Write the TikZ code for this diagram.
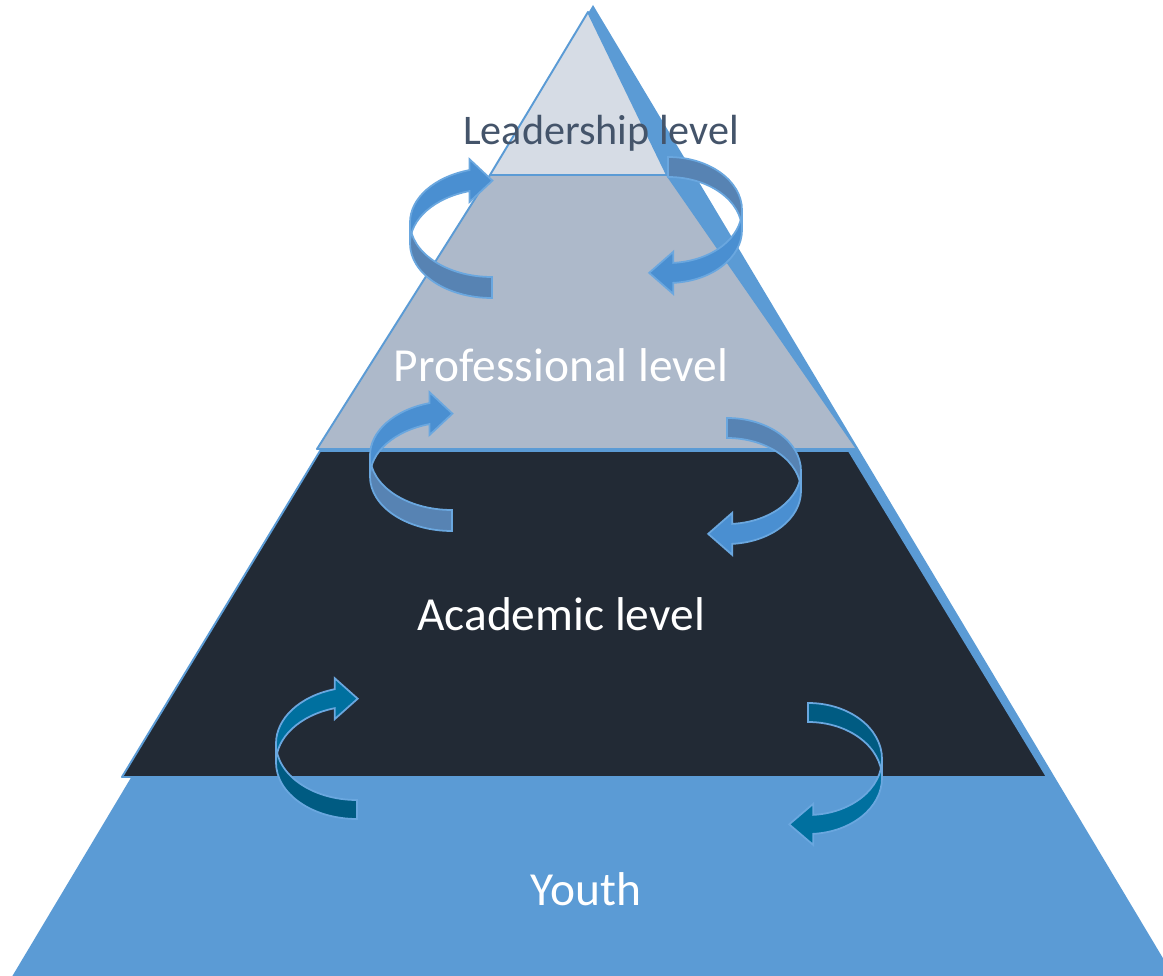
\documentclass[tikz,border=0pt]{standalone}
\usepackage{fontspec}
\setmainfont{Carlito}
\usetikzlibrary{calc}

\definecolor{youthblue}{HTML}{5B9BD5}
\definecolor{acadfill}{HTML}{222A35}
\definecolor{proffill}{HTML}{ADB9CA}
\definecolor{leadfill}{HTML}{D6DCE5}
\definecolor{leadtext}{HTML}{44546A}
\definecolor{ribfront}{HTML}{4A8FD1}
\definecolor{ribback}{HTML}{5783B3}
\definecolor{deepfront}{HTML}{00709F}
\definecolor{deepback}{HTML}{005B82}
\definecolor{ribedge}{HTML}{6AA7DF}

% ribbon loop on the left side: centre, x radius, y radius, band, front, back
\newcommand{\ribbonleft}[6]{
  \coordinate (c) at #1;
  \filldraw[rib, fill=#6] ($(c)+(180:#2 and #3)$) arc[start angle=180, end angle=90, x radius=#2, y radius=#3]
    -- ++(0,#4) arc[start angle=90, end angle=180, x radius=#2, y radius=#3] -- cycle;
  \coordinate (a) at ($(c)+(254:#2 and #3)$);
  \coordinate (b) at ($(a)+(0,#4)$);
  \coordinate (m) at ($(a)!0.5!(b)$);
  \filldraw[rib, fill=#5] ($(m)+(23,0)$) -- ($(a)+(0,-11)$) -- (a)
    arc[start angle=254, end angle=180, x radius=#2, y radius=#3]
    -- ++(0,#4) arc[start angle=180, end angle=254, x radius=#2, y radius=#3]
    -- ($(b)+(0,11)$) -- cycle;
}
% ribbon loop on the right side
\newcommand{\ribbonright}[6]{
  \coordinate (c) at #1;
  \filldraw[rib, fill=#6] ($(c)+(270:#2 and #3)$) arc[start angle=270, end angle=360, x radius=#2, y radius=#3]
    -- ++(0,#4) arc[start angle=0, end angle=-90, x radius=#2, y radius=#3] -- cycle;
  \coordinate (a) at ($(c)+(86:#2 and #3)$);
  \coordinate (b) at ($(a)+(0,#4)$);
  \coordinate (m) at ($(a)!0.5!(b)$);
  \filldraw[rib, fill=#5] ($(m)+(-24,0)$) -- ($(a)+(0,-11)$) -- (a)
    arc[start angle=86, end angle=0, x radius=#2, y radius=#3]
    -- ++(0,#4) arc[start angle=0, end angle=86, x radius=#2, y radius=#3]
    -- ($(b)+(0,11)$) -- cycle;
}

\begin{document}
\begin{tikzpicture}[x=0.02cm, y=-0.02cm,
    layer/.style={draw=youthblue, line width=1.1pt, line join=round},
    rib/.style={draw=ribedge, line width=1pt, line join=miter},
    lvl/.style={anchor=base, text=white, font=\fontsize{27}{32}\selectfont}]
  \useasboundingbox (0,0) rectangle (1163,976);
  \clip (0,0) rectangle (1163,976);

  % pyramid layers
  \fill[youthblue] (593,5) -- (1182,990) -- (4,990) -- cycle;
  \filldraw[layer, fill=acadfill] (320,451) -- (849,451) -- (1047,777) -- (122,777) -- cycle;
  \filldraw[layer, fill=proffill] (490,175) -- (667,175) -- (857,449) -- (317,449) -- cycle;
  \filldraw[layer, fill=leadfill] (588,12) -- (667,175) -- (490,175) -- cycle;

  % loops between the levels
  \ribbonleft{(492,222.5)}{82}{54.5}{21}{ribfront}{ribback}
  \ribbonright{(668,210)}{74}{53}{20}{ribfront}{ribback}
  \ribbonleft{(452,455.5)}{82}{54.5}{21}{ribfront}{ribback}
  \ribbonright{(727,471)}{74}{53}{20}{ribfront}{ribback}
  \ribbonleft{(357,743.5)}{81}{56.5}{19}{deepfront}{deepback}
  \ribbonright{(808,759)}{74}{56}{19}{deepfront}{deepback}

  % level names
  \node[lvl, text=leadtext, font=\fontsize{24}{28}\selectfont] (lead) at (601,145) {Leadership level};
  \node[lvl] (prof) at (561,382) {Professional level};
  \node[lvl] (acad) at (561,630) {Academic level};
  \node[lvl] (youth) at (586,905) {Youth};
\end{tikzpicture}
\end{document}
